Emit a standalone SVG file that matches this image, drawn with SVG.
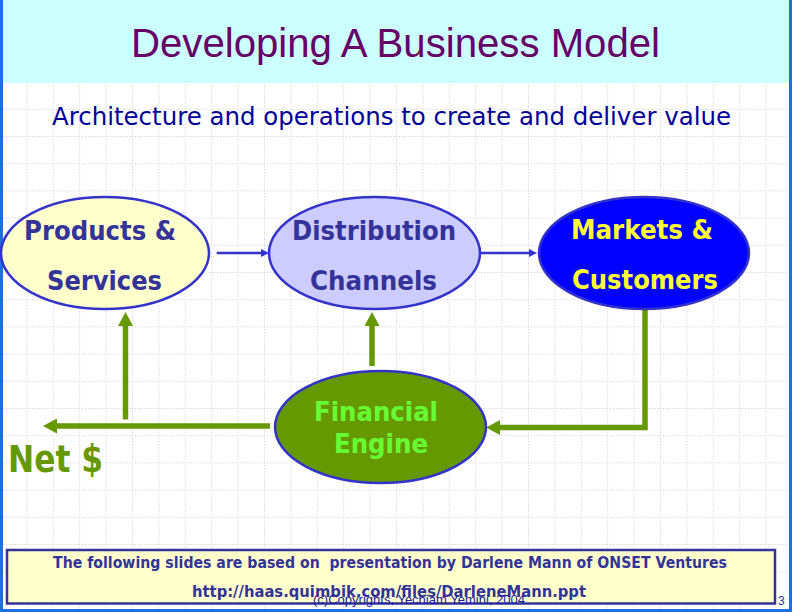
<svg xmlns="http://www.w3.org/2000/svg" width="792" height="612" viewBox="0 0 792 612">
  <style>
    .lbl { font-family: "DejaVu Sans", Verdana, sans-serif; font-weight: bold; font-size: 27px; }
    .navy { fill: #333399; }
    .node { stroke: #3333cc; stroke-width: 2.5; }
    .olive { fill: none; stroke: #669900; stroke-width: 5.5; }
    .blue { fill: none; stroke: #3333cc; stroke-width: 2.5; }
  </style>
  <defs>
    <pattern id="grid" patternUnits="userSpaceOnUse" x="0" y="0" width="26.4" height="27.2">
      <path d="M0 0.5 H26.4 M0.5 0 V27.2" fill="none" stroke="#c8c8c8" stroke-width="1" stroke-dasharray="1 2"/>
    </pattern>
    <marker id="olivehead" markerUnits="userSpaceOnUse" viewBox="0 0 14 15" refX="0" refY="7.5" markerWidth="14" markerHeight="15" orient="auto">
      <path d="M0 0 L14 7.5 L0 15 Z" fill="#669900"/>
    </marker>
    <marker id="bluehead" markerUnits="userSpaceOnUse" viewBox="0 0 8 8" refX="0" refY="4" markerWidth="8" markerHeight="8" orient="auto">
      <path d="M0 0 L8 4 L0 8 Z" fill="#3333cc"/>
    </marker>
  </defs>

  <!-- background -->
  <rect x="0" y="0" width="792" height="612" fill="#ffffff"/>
  <rect x="0" y="0" width="792" height="612" fill="url(#grid)"/>
  <rect x="0" y="0" width="792" height="83" fill="#ccffff"/>
  <rect x="0" y="0" width="3" height="612" fill="#1e6fe0"/>
  <rect x="789" y="0" width="3" height="612" fill="#1e6fe0"/>
  <rect x="0" y="609" width="792" height="3" fill="#1e6fe0"/>

  <!-- title -->
  <text x="131" y="57" font-family="Liberation Sans, Arial, sans-serif" font-size="40" fill="#660066" textLength="529" lengthAdjust="spacingAndGlyphs">Developing A Business Model</text>
  <text x="52" y="125" font-family="DejaVu Sans, Verdana, sans-serif" font-size="25" fill="#000099" textLength="679" lengthAdjust="spacingAndGlyphs">Architecture and operations to create and deliver value</text>

  <!-- connectors -->
  <g id="connectors">
    <path class="blue" d="M216.7 253 H261" marker-end="url(#bluehead)"/>
    <path class="blue" d="M480 253 H529" marker-end="url(#bluehead)"/>
    <path class="olive" d="M372 366 V326" marker-end="url(#olivehead)"/>
    <path class="olive" d="M125.5 419.5 V326" marker-end="url(#olivehead)"/>
    <path class="olive" d="M270 426 H57" marker-end="url(#olivehead)"/>
    <path class="olive" d="M645 309 V427.5 H500" marker-end="url(#olivehead)"/>
  </g>

  <!-- nodes -->
  <g id="products">
    <ellipse class="node" cx="105" cy="253" rx="104" ry="56" fill="#ffffcc"/>
    <text class="lbl navy" x="24" y="239.5" textLength="152" lengthAdjust="spacingAndGlyphs">Products &amp;</text>
    <text class="lbl navy" x="47" y="290" textLength="115" lengthAdjust="spacingAndGlyphs">Services</text>
  </g>
  <g id="distribution">
    <ellipse class="node" cx="374.5" cy="253" rx="105.5" ry="56" fill="#ccccff"/>
    <text class="lbl navy" x="292" y="239.5" textLength="164" lengthAdjust="spacingAndGlyphs">Distribution</text>
    <text class="lbl navy" x="310" y="290" textLength="127" lengthAdjust="spacingAndGlyphs">Channels</text>
  </g>
  <g id="markets">
    <ellipse class="node" cx="644" cy="253" rx="105" ry="56" fill="#0000ff"/>
    <text class="lbl" x="571" y="238.5" fill="#ffff33" textLength="142" lengthAdjust="spacingAndGlyphs">Markets &amp;</text>
    <text class="lbl" x="572" y="289" fill="#ffff33" textLength="146" lengthAdjust="spacingAndGlyphs">Customers</text>
  </g>
  <g id="financial">
    <ellipse class="node" cx="380.5" cy="427" rx="105.5" ry="56" fill="#669900"/>
    <text class="lbl" x="314" y="421" fill="#66ff33" textLength="124" lengthAdjust="spacingAndGlyphs">Financial</text>
    <text class="lbl" x="334" y="453" fill="#66ff33" textLength="94" lengthAdjust="spacingAndGlyphs">Engine</text>
  </g>
  <g id="net">
    <text class="lbl" x="8" y="472" style="font-size:37px" fill="#669900" textLength="95" lengthAdjust="spacingAndGlyphs">Net $</text>
  </g>

  <!-- footer note -->
  <g id="note">
    <rect x="7" y="550" width="768" height="53.5" fill="#ffffcc" stroke="#333399" stroke-width="2.5"/>
    <text class="lbl navy" x="53" y="568" style="font-size:15px" xml:space="preserve" textLength="674" lengthAdjust="spacingAndGlyphs">The following slides are based on  presentation by Darlene Mann of ONSET Ventures</text>
    <text class="lbl navy" x="192" y="597" style="font-size:15.5px" textLength="394" lengthAdjust="spacingAndGlyphs">http://haas.quimbik.com/files/DarleneMann.ppt</text>
  </g>
  <text x="313" y="604" font-family="Liberation Sans, Arial, sans-serif" font-size="13" fill="#1a1aa0" textLength="212" lengthAdjust="spacingAndGlyphs">(c)Copyrights, Yechiam Yemini, 2004</text>
  <text x="778" y="605" font-family="Liberation Sans, Arial, sans-serif" font-size="12" fill="#333399">3</text>
</svg>
